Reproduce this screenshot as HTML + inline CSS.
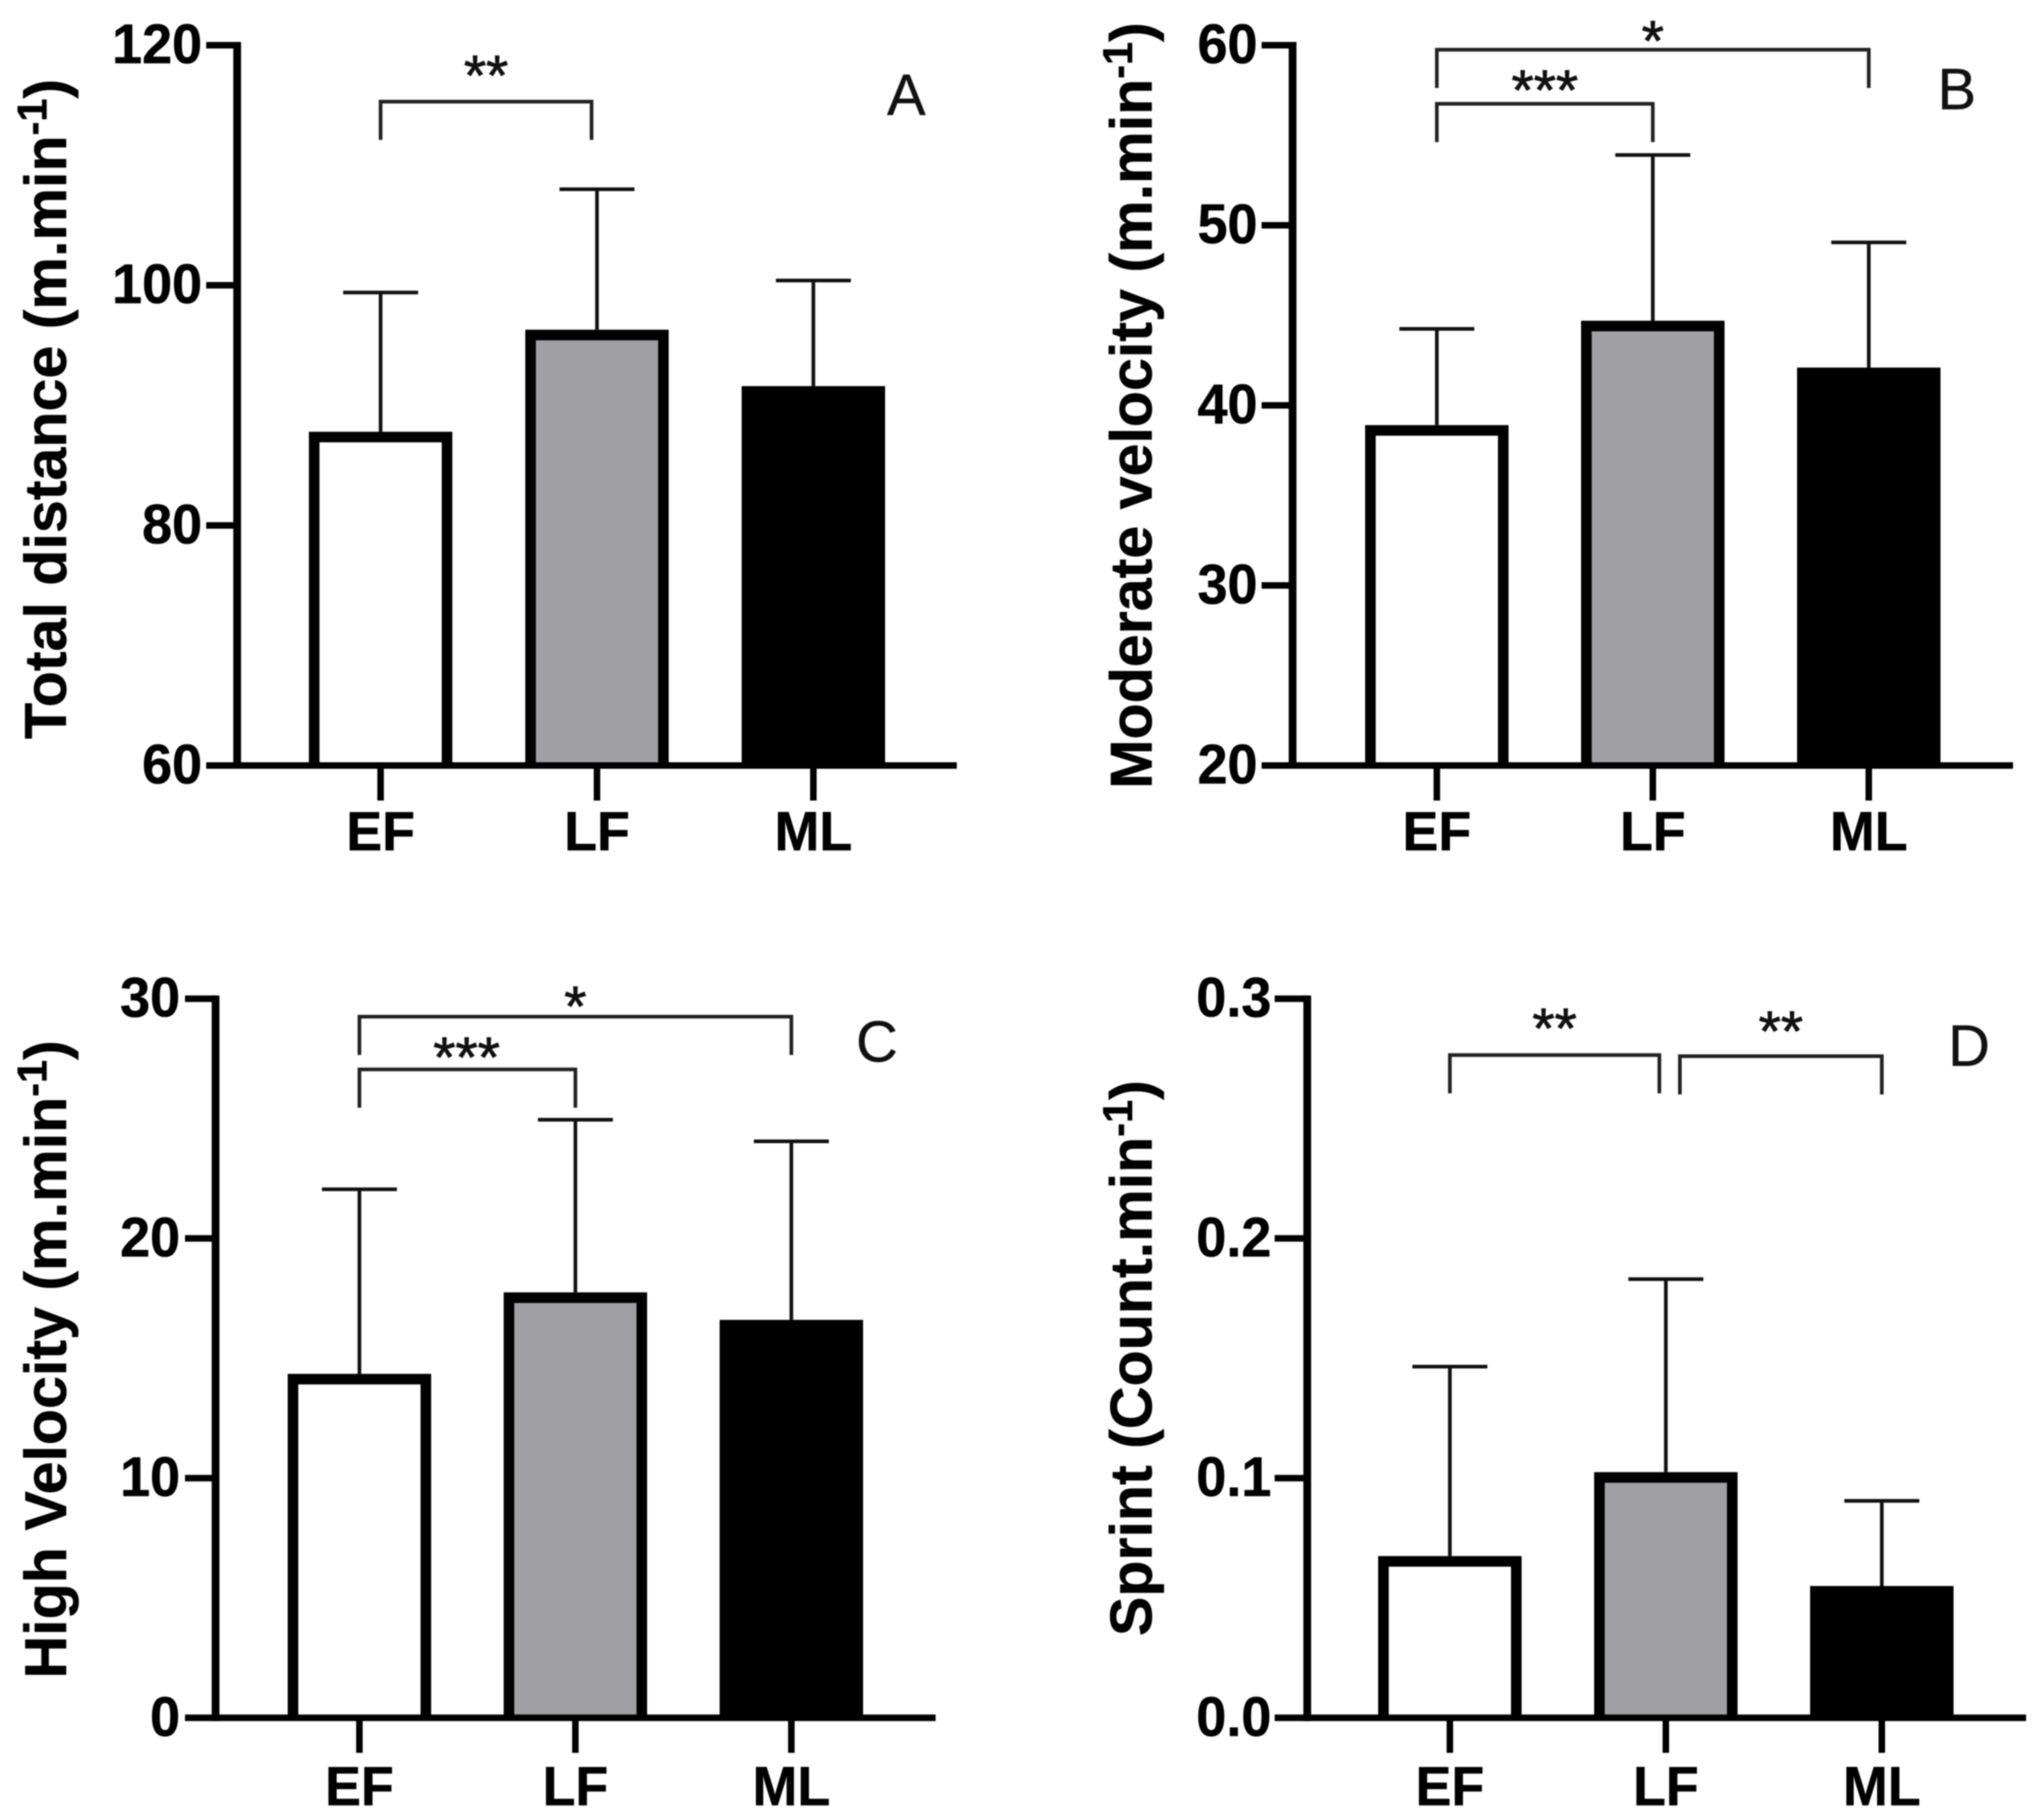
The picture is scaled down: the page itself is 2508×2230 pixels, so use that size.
<!DOCTYPE html>
<html lang="en">
<head>
<meta charset="utf-8">
<title>Bar charts: EF, LF and ML</title>
<style>
html,body{margin:0;padding:0;background:#fff;}
svg{display:block;font-family:"Liberation Sans",Arial,sans-serif;filter:blur(0.7px);}
</style>
</head>
<body>
<svg id="figure" xmlns="http://www.w3.org/2000/svg" width="2508" height="2230" viewBox="0 0 2508 2230">
<rect x="0" y="0" width="2508" height="2230" fill="#ffffff"/>
</svg>
<script>
const categories = ['EF', 'LF', 'ML'];

const totalDistanceMeans = [87.8, 96.3, 91.6];
const totalDistanceErrorTops = [99.4, 108.0, 100.4];
const totalDistanceTicks = [60, 80, 100, 120];
const totalDistanceTickLabels = ['60', '80', '100', '120'];

const moderateVelocityMeans = [38.9, 44.7, 42.1];
const moderateVelocityErrorTops = [44.25, 53.9, 49.05];
const moderateVelocityTicks = [20, 30, 40, 50, 60];
const moderateVelocityTickLabels = ['20', '30', '40', '50', '60'];

const highVelocityMeans = [14.35, 17.75, 16.6];
const highVelocityErrorTops = [22.05, 24.95, 24.05];
const highVelocityTicks = [0, 10, 20, 30];
const highVelocityTickLabels = ['0', '10', '20', '30'];

const sprintMeans = [0.0675, 0.1025, 0.055];
const sprintErrorTops = [0.1465, 0.183, 0.0905];
const sprintTicks = [0, 0.1, 0.2, 0.3];
const sprintTickLabels = ['0.0', '0.1', '0.2', '0.3'];

const totalDistanceBrackets = [[0, 0.975, 115.3, '**']];
const moderateVelocityBrackets = [[0, 2, 59.75, '*'], [0, 1, 56.75, '***']];
const highVelocityBrackets = [[0, 2, 29.25, '*'], [0, 1, 27.05, '***']];
const sprintBrackets = [[0, 0.97, 0.2765, '**'], [1.065, 2, 0.276, '**']];

const barFills = ['#ffffff', '#a09fa4', '#000000'];

const panels = [
  {id:'a', letter:'A', title:'Total distance (m.min', means:totalDistanceMeans, tops:totalDistanceErrorTops, ticks:totalDistanceTicks, labels:totalDistanceTickLabels, brackets:totalDistanceBrackets,
   axisX:291, tickLeft:253, xEnd:1174, yTop:55.5, yBase:939.5, cat0:467, catStep:265.5, labelRight:248, labelDrop:104, titleX:81, titleY:907, titleSize:72.6, letterX:1112, letterY:141, starOffsets:[[0,-45]]},
  {id:'b', letter:'B', title:'Moderate velocity (m.min', means:moderateVelocityMeans, tops:moderateVelocityErrorTops, ticks:moderateVelocityTicks, labels:moderateVelocityTickLabels, brackets:moderateVelocityBrackets,
   axisX:1586, tickLeft:1548, xEnd:2470, yTop:55.5, yBase:939.5, cat0:1763, catStep:265, labelRight:1543, labelDrop:104, titleX:1413, titleY:968, titleSize:72.6, letterX:2401, letterY:134, starOffsets:[[0,-24],[0,-30]]},
  {id:'c', letter:'C', title:'High Velocity (m.min', means:highVelocityMeans, tops:highVelocityErrorTops, ticks:highVelocityTicks, labels:highVelocityTickLabels, brackets:highVelocityBrackets,
   axisX:264.5, tickLeft:227, xEnd:1148, yTop:1225.7, yBase:2108.3, cat0:441, catStep:265, labelRight:221, labelDrop:107, titleX:81, titleY:2060, titleSize:72.6, letterX:1076, letterY:1303, starOffsets:[[0,-26],[-1,-28]]},
  {id:'d', letter:'D', title:'Sprint (Count.min', means:sprintMeans, tops:sprintErrorTops, ticks:sprintTicks, labels:sprintTickLabels, brackets:sprintBrackets,
   axisX:1604, tickLeft:1564, xEnd:2486, yTop:1225.7, yBase:2108.3, cat0:1779, catStep:265, labelRight:1560, labelDrop:107, titleX:1413, titleY:2008, titleSize:72.6, letterX:2416, letterY:1308, starOffsets:[[0,-46],[0,-44]]}
];

const svg = document.getElementById('figure');
const NS = 'http://www.w3.org/2000/svg';

function make(parent, tag, attrs, text) {
  const node = document.createElementNS(NS, tag);
  for (const key in attrs) node.setAttribute(key, attrs[key]);
  if (text !== undefined) node.textContent = text;
  parent.appendChild(node);
  return node;
}

function drawPanel(p) {
  const lo = p.ticks[0];
  const hi = p.ticks[p.ticks.length - 1];
  const y = v => p.yBase - (v - lo) / (hi - lo) * (p.yBase - p.yTop);
  const x = i => p.cat0 + i * p.catStep;

  const g = make(svg, 'g', {});
  
  

  categories.forEach((cat, i) => {
    const stem = make(g, 'line', {x1:x(i), x2:x(i), y1:y(p.tops[i]), y2:y(p.means[i]), stroke:'#111', 'stroke-width':4.5});
    
    
    const cap = make(g, 'line', {x1:x(i) - 46, x2:x(i) + 46, y1:y(p.tops[i]), y2:y(p.tops[i]), stroke:'#111', 'stroke-width':4.5});
    
    
    const bw = 176, border = 13;
    const top = y(p.means[i]) + border / 2;
    const left = x(i) - bw / 2 + border / 2;
    const right = x(i) + bw / 2 - border / 2;
    const bar = make(g, 'path', {d:'M' + left + ' ' + p.yBase + 'V' + top + 'H' + right + 'V' + p.yBase, fill:barFills[i], stroke:'#000', 'stroke-width':border});
    
    
    const tick = make(g, 'line', {x1:x(i), x2:x(i), y1:p.yBase, y2:p.yBase + 43, stroke:'#000', 'stroke-width':8});
    
    
    const lab = make(g, 'text', {transform:'translate(' + x(i) + ' ' + (p.yBase + p.labelDrop) + ') scale(0.97 1)', 'text-anchor':'middle', 'font-size':68, 'font-weight':'bold', fill:'#000', stroke:'#000', 'stroke-width':0.6}, cat);
    
    
  });

  const yAxis = make(g, 'line', {x1:p.axisX, x2:p.axisX, y1:p.yTop - 4, y2:p.yBase + 4, stroke:'#000', 'stroke-width':9.5});
  
  
  const xAxis = make(g, 'line', {x1:p.axisX, x2:p.xEnd, y1:p.yBase, y2:p.yBase, stroke:'#000', 'stroke-width':8});
  
  

  p.ticks.forEach((t, i) => {
    const tick = make(g, 'line', {x1:p.tickLeft, x2:p.axisX, y1:y(t), y2:y(t), stroke:'#000', 'stroke-width':8});
    
    
    const lab = make(g, 'text', {transform:'translate(' + p.labelRight + ' ' + (y(t) + 22) + ') scale(0.96 1)', 'text-anchor':'end', 'font-size':69, 'font-weight':'bold', fill:'#000', stroke:'#000', 'stroke-width':0.6}, p.labels[i]);
    
    
  });

  const title = make(g, 'text', {transform:'translate(' + p.titleX + ' ' + p.titleY + ') rotate(-90)', 'font-size':p.titleSize, 'font-weight':'bold', fill:'#000', stroke:'#000', 'stroke-width':0.6});
  
  
  make(title, 'tspan', {}, p.title);
  make(title, 'tspan', {'font-size':p.titleSize * 0.7, dy:-24}, '-1');
  make(title, 'tspan', {dy:24}, ')');

  p.brackets.forEach((b, i) => {
    const xa = x(b[0]), xb = x(b[1]), level = y(b[2]), drop = 47;
    const path = make(g, 'path', {d:'M' + xa + ' ' + (level + drop) + 'V' + level + 'H' + xb + 'V' + (level + drop), fill:'none', stroke:'#222', 'stroke-width':4.5});
    
    
    const off = p.starOffsets[i];
    const star = make(g, 'text', {x:(xa + xb) / 2 + off[0], y:level + off[1] + 37, 'text-anchor':'middle', 'font-size':70, fill:'#111', stroke:'#111', 'stroke-width':1}, b[3]);
    
    
  });

  const letter = make(g, 'text', {x:p.letterX, y:p.letterY, 'text-anchor':'middle', 'font-size':71, fill:'#111', stroke:'#111', 'stroke-width':0.5}, p.letter);
  
  
}

panels.forEach(drawPanel);
</script>
</body>
</html>
